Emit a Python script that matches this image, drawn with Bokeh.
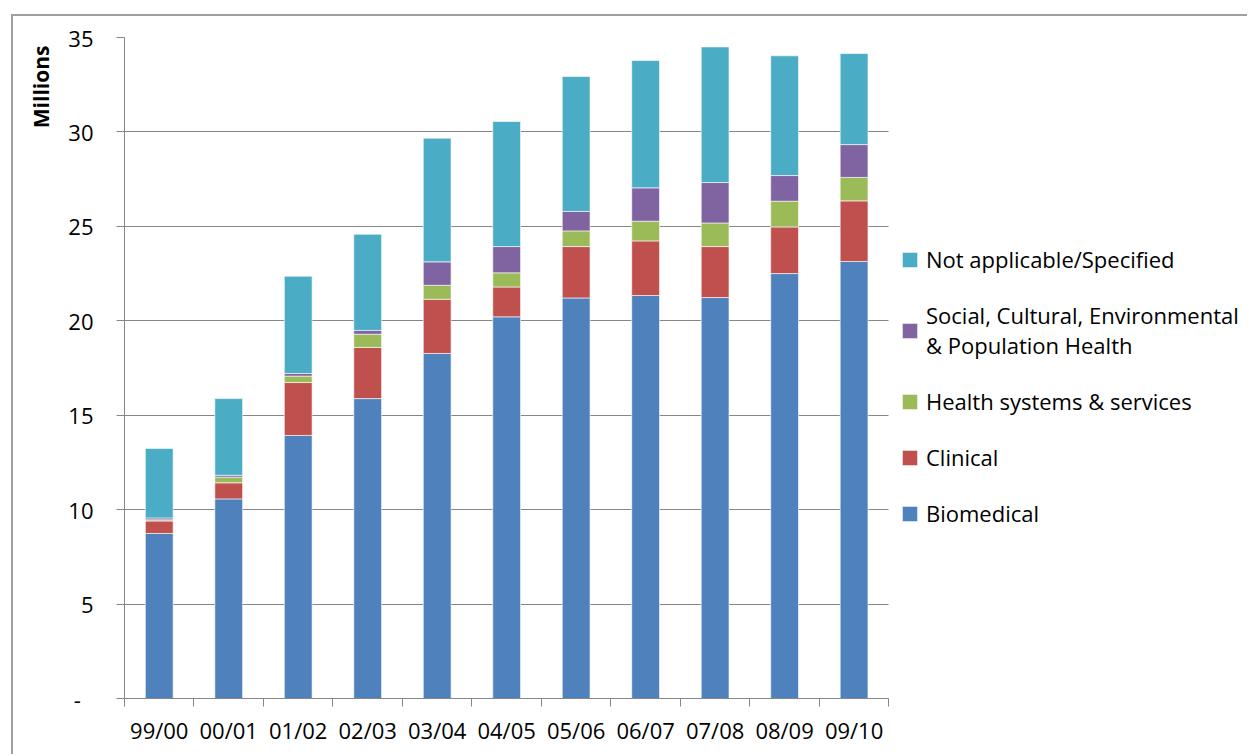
from bokeh.plotting import figure
from bokeh.models import (ColumnDataSource, Range1d, FixedTicker, Legend, LegendItem, Title)
from bokeh.embed import file_html
from bokeh.resources import INLINE

years = ["99/00", "00/01", "01/02", "02/03", "03/04", "04/05", "05/06",
         "06/07", "07/08", "08/09", "09/10"]
biomedical = [8.74, 10.57, 13.93, 15.88, 18.27, 20.21, 21.21, 21.34, 21.23, 22.50, 23.14]
clinical = [0.66, 0.85, 2.80, 2.71, 2.87, 1.58, 2.72, 2.89, 2.70, 2.47, 3.21]
health_systems = [0.06, 0.30, 0.34, 0.70, 0.74, 0.75, 0.83, 1.04, 1.25, 1.36, 1.24]
social = [0.10, 0.10, 0.14, 0.20, 1.24, 1.39, 1.03, 1.77, 2.14, 1.36, 1.74]
not_applicable = [3.68, 4.06, 5.15, 5.09, 6.55, 6.62, 7.14, 6.74, 7.18, 6.34, 4.82]
y_ticks = [0, 5, 10, 15, 20, 25, 30, 35]

series = ["biomedical", "clinical", "health_systems", "social", "not_applicable"]
series_labels = ["Biomedical", "Clinical", "Health systems & services",
                 "Social, Cultural, Environmental\n& Population Health",
                 "Not applicable/Specified"]
colors = ["#4F81BD", "#C0504D", "#9BBB59", "#8064A2", "#4BACC6"]

xpos = list(range(1, len(years) + 1))
source = ColumnDataSource(dict(x=xpos, biomedical=biomedical, clinical=clinical,
                               health_systems=health_systems, social=social,
                               not_applicable=not_applicable))

FONT = "Open Sans"
GRID = "#868686"

# the plotting frame extends to the right edge so that the legend is not clipped;
# category pitch is kept the same as in the reference (11 categories over 765 px)
x_end = 0.5 + len(years) * 1126 / 765

p = figure(width=1236, height=740, output_backend="svg", toolbar_location=None,
           x_range=Range1d(0.5, x_end), y_range=Range1d(0, 35),
           min_border_left=110, min_border_right=0, min_border_top=21,
           min_border_bottom=58,
           styles={"margin-left": "11px", "margin-top": "14px",
                   "border-left": "2px solid #A0A0A0", "border-top": "2px solid #A0A0A0"})
p.outline_line_color = None
p.background_fill_color = "white"
p.border_fill_color = "white"

renderers = p.vbar_stack(series, x="x", width=0.4, source=source, color=colors,
                         line_color="white", line_alpha=0.6, line_width=1)

# y axis
p.yaxis.ticker = FixedTicker(ticks=y_ticks)
p.yaxis.major_label_overrides = {0: "-\u2007"}
p.yaxis.axis_line_color = GRID
p.yaxis.major_tick_line_color = GRID
p.yaxis.major_tick_out = 8
p.yaxis.major_tick_in = 0
p.yaxis.minor_tick_line_color = None
p.yaxis.major_label_standoff = 23
p.yaxis.major_label_text_font = FONT
p.yaxis.major_label_text_font_size = "22px"
p.yaxis.major_label_text_color = "black"

# x axis
p.xaxis.bounds = (0.5, len(years) + 0.5)
p.xaxis.ticker = FixedTicker(ticks=xpos, minor_ticks=[i + 0.5 for i in range(len(years) + 1)])
p.xaxis.major_label_overrides = {i: y for i, y in zip(xpos, years)}
p.xaxis.axis_line_color = GRID
p.xaxis.major_tick_line_color = None
p.xaxis.major_tick_out = 8
p.xaxis.major_tick_in = 0
p.xaxis.minor_tick_line_color = GRID
p.xaxis.minor_tick_out = 8
p.xaxis.minor_tick_in = 0
p.xaxis.major_label_standoff = 8
p.xaxis.major_label_text_font = FONT
p.xaxis.major_label_text_font_size = "22px"
p.xaxis.major_label_text_color = "black"

p.xgrid.grid_line_color = None
p.ygrid.grid_line_color = GRID
p.ygrid.grid_line_width = 1
p.ygrid.cross_bounds = (0.5, len(years) + 0.5)

# y axis title (top-aligned)
p.add_layout(Title(text="Millions", align="right", offset=8, standoff=22,
                   text_font=FONT, text_font_style="bold", text_font_size="21px",
                   text_color="black"), "left")

# legend
items = [LegendItem(label=lab, renderers=[r]) for lab, r in zip(series_labels, renderers)]
items = items[::-1]
legend = Legend(items=items, location=(776, 170), padding=0, margin=0,
                border_line_color=None, background_fill_alpha=0,
                glyph_width=19, glyph_height=19, label_height=19,
                label_standoff=7, spacing=26,
                label_text_font=FONT, label_text_font_size="22px",
                label_text_color="black")
p.add_layout(legend, "center")

open("out.html", "w").write(file_html(p, INLINE))
